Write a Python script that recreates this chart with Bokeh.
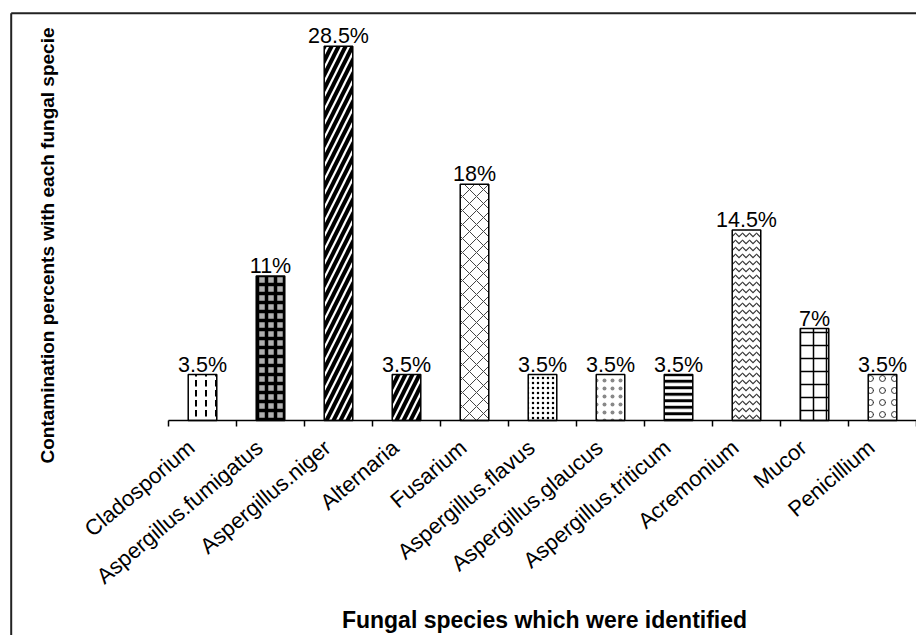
from bokeh.plotting import figure
from bokeh.models import ColumnDataSource, CDSView, IndexFilter, Range1d
from bokeh.core.properties import value
from bokeh.embed import file_html
from bokeh.resources import INLINE

# ---- data ----
species = ["Cladosporium", "Aspergillus.fumigatus", "Aspergillus.niger",
           "Alternaria", "Fusarium", "Aspergillus.flavus",
           "Aspergillus.glaucus", "Aspergillus.triticum", "Acremonium",
           "Mucor", "Penicillium"]
percents = [3.5, 11, 28.5, 3.5, 18, 3.5, 3.5, 3.5, 14.5, 7, 3.5]
value_labels = ["3.5%", "11%", "28.5%", "3.5%", "18%", "3.5%", "3.5%",
                "3.5%", "14.5%", "7%", "3.5%"]
x_title = "Fungal species which were identified"
y_title = "Contamination percents with each fungal specie"

# ---- styles (one per bar) ----
patterns = [":", "+", "/", "/", "x", ".", ".", "-", "v", "+", "o"]
h_scales = [10, 9, 14, 14, 14, 5, 8, 6.5, 7, 13, 12]
h_weights = [2, 3.5, 4, 4, 1, 2, 0.5, 3, 1.2, 1.5, 1]
h_colors = ["black", "black", "black", "black", "#444444", "black",
            "#888888", "black", "#333333", "black", "#333333"]
fills = ["white", "#b0b0b0", "white", "white", "white", "white", "white",
         "white", "white", "white", "white"]

# ---- layout constants (pixels of the 916x635 canvas) ----
W, H = 916, 635
X0_PX, PX_PER_CAT = 168, 68        # where category 0 starts, width of a category
Y0_PX, PX_PER_PCT = 420, 13.13     # baseline, pixels per percent


def dx(px):
    return (px - X0_PX) / PX_PER_CAT


def dy(py):
    return (Y0_PX - py) / PX_PER_PCT


n = len(species)
centers = [i + 0.5 for i in range(n)]
bounds = list(range(n + 1))
source = ColumnDataSource(dict(x=centers, top=percents, label=value_labels,
                               name=species))

p = figure(width=W, height=H, output_backend="svg", toolbar_location=None,
           x_range=Range1d(dx(0), dx(W)), y_range=Range1d(dy(H), dy(0)),
           x_axis_type=None, y_axis_type=None, min_border=0)
p.grid.visible = False
p.outline_line_color = None

# outer frame (left and top edges of the picture box)
p.segment(x0=[dx(10.7), dx(10.7)], y0=[dy(12.7), dy(12.7)],
          x1=[dx(10.7), dx(W + 5)], y1=[dy(H + 5), dy(12.7)],
          line_color="#222222", line_width=2)

# bars
for i in range(n):
    p.vbar(x="x", top="top", width=0.42, source=source,
           view=CDSView(filter=IndexFilter([i])),
           fill_color=fills[i], line_color="black", line_width=1.5,
           hatch_pattern=patterns[i], hatch_scale=h_scales[i],
           hatch_weight=h_weights[i], hatch_color=h_colors[i])

# category axis: line, ticks at category boundaries, rotated labels
p.segment(x0=[0], y0=[0], x1=[n], y1=[0], line_color="black", line_width=1.5)
tick_len = 6 / PX_PER_PCT
p.segment(x0=bounds, y0=[0] * len(bounds), x1=bounds,
          y1=[-tick_len] * len(bounds), line_color="black", line_width=1.5)
p.text(x="x", y=0, text="name", source=source, angle=0.70,
       text_align="right", text_baseline="alphabetic", x_offset=-11,
       y_offset=24, text_font=value("Liberation Sans"),
       text_font_size="22px", text_color="black")

# value labels
p.text(x="x", y="top", text="label", source=source, text_align="center",
       text_baseline="alphabetic", y_offset=-10, text_font_size="21.5px",
       text_font=value("Liberation Sans"), text_color="black")

# axis titles
p.text(x=[dx(544)], y=[dy(619)], text=[x_title], text_align="center",
       text_baseline="alphabetic", text_font=value("Liberation Sans"),
       text_font_style="bold", text_font_size="23px", text_color="black")
p.text(x=[dx(47)], y=[dy(245)], text=[y_title], angle=1.5707963,
       text_align="center", text_baseline="middle",
       text_font=value("Liberation Sans"), text_font_style="bold",
       text_font_size="19px", text_color="black")

open("out.html", "w").write(file_html(p, INLINE))
